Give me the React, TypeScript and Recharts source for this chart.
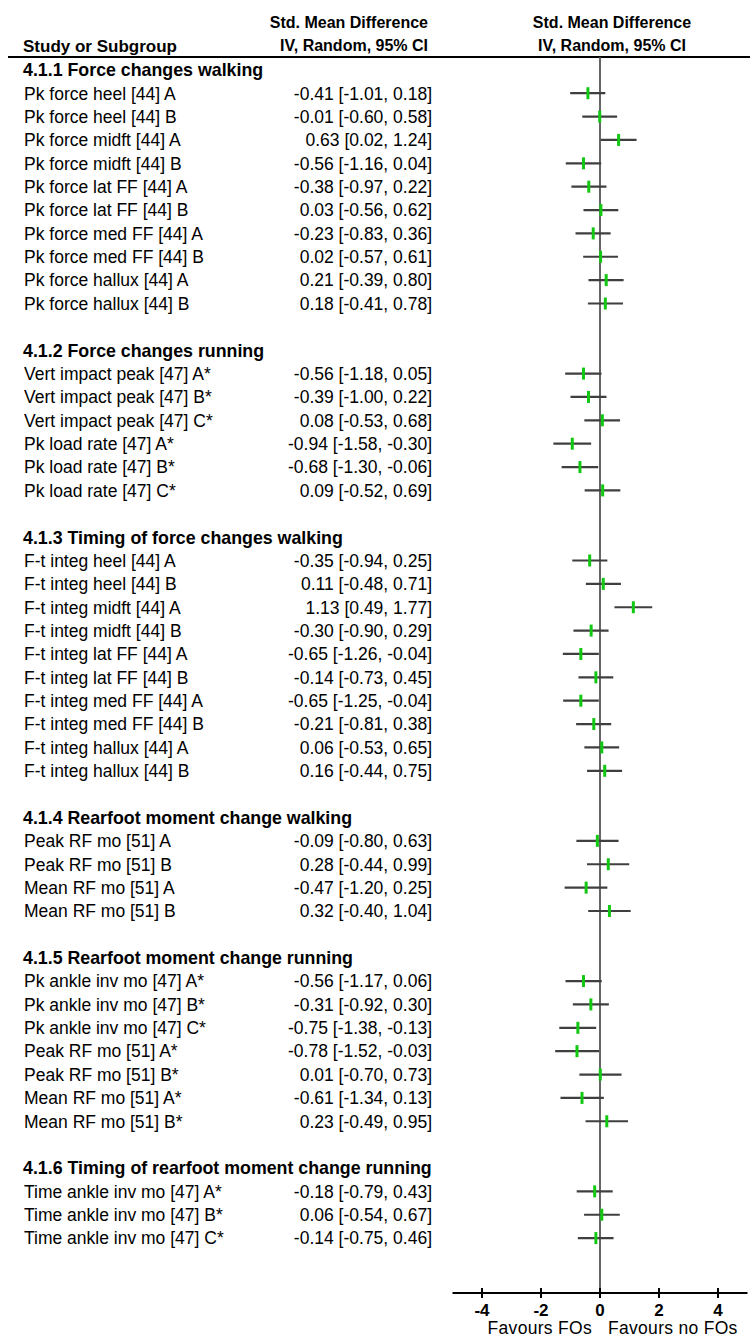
import React from "react";
import {
  ComposedChart,
  Scatter,
  ErrorBar,
  XAxis,
  YAxis,
  ReferenceLine,
  Customized,
} from "recharts";

const sectionTitles = [
  "4.1.1 Force changes walking",
  "4.1.2 Force changes running",
  "4.1.3 Timing of force changes walking",
  "4.1.4 Rearfoot moment change walking",
  "4.1.5 Rearfoot moment change running",
  "4.1.6 Timing of rearfoot moment change running",
];
const sectionSizes = [10, 6, 10, 4, 7, 3];

const studyLabels = [
  "Pk force heel [44] A",
  "Pk force heel [44] B",
  "Pk force midft [44] A",
  "Pk force midft [44] B",
  "Pk force lat FF [44] A",
  "Pk force lat FF [44] B",
  "Pk force med FF [44] A",
  "Pk force med FF [44] B",
  "Pk force hallux [44] A",
  "Pk force hallux [44] B",
  "Vert impact peak [47] A*",
  "Vert impact peak [47] B*",
  "Vert impact peak [47] C*",
  "Pk load rate [47] A*",
  "Pk load rate [47] B*",
  "Pk load rate [47] C*",
  "F-t integ heel [44] A",
  "F-t integ heel [44] B",
  "F-t integ midft [44] A",
  "F-t integ midft [44] B",
  "F-t integ lat FF [44] A",
  "F-t integ lat FF [44] B",
  "F-t integ med FF [44] A",
  "F-t integ med FF [44] B",
  "F-t integ hallux [44] A",
  "F-t integ hallux [44] B",
  "Peak RF mo [51] A",
  "Peak RF mo [51] B",
  "Mean RF mo [51] A",
  "Mean RF mo [51] B",
  "Pk ankle inv mo [47] A*",
  "Pk ankle inv mo [47] B*",
  "Pk ankle inv mo [47] C*",
  "Peak RF mo [51] A*",
  "Peak RF mo [51] B*",
  "Mean RF mo [51] A*",
  "Mean RF mo [51] B*",
  "Time ankle inv mo [47] A*",
  "Time ankle inv mo [47] B*",
  "Time ankle inv mo [47] C*",
];

const smd = [
  -0.41, -0.01, 0.63, -0.56, -0.38, 0.03, -0.23, 0.02, 0.21, 0.18,
  -0.56, -0.39, 0.08, -0.94, -0.68, 0.09,
  -0.35, 0.11, 1.13, -0.3, -0.65, -0.14, -0.65, -0.21, 0.06, 0.16,
  -0.09, 0.28, -0.47, 0.32,
  -0.56, -0.31, -0.75, -0.78, 0.01, -0.61, 0.23,
  -0.18, 0.06, -0.14,
];
const ciLow = [
  -1.01, -0.6, 0.02, -1.16, -0.97, -0.56, -0.83, -0.57, -0.39, -0.41,
  -1.18, -1.0, -0.53, -1.58, -1.3, -0.52,
  -0.94, -0.48, 0.49, -0.9, -1.26, -0.73, -1.25, -0.81, -0.53, -0.44,
  -0.8, -0.44, -1.2, -0.4,
  -1.17, -0.92, -1.38, -1.52, -0.7, -1.34, -0.49,
  -0.79, -0.54, -0.75,
];
const ciHigh = [
  0.18, 0.58, 1.24, 0.04, 0.22, 0.62, 0.36, 0.61, 0.8, 0.78,
  0.05, 0.22, 0.68, -0.3, -0.06, 0.69,
  0.25, 0.71, 1.77, 0.29, -0.04, 0.45, -0.04, 0.38, 0.65, 0.75,
  0.63, 0.99, 0.25, 1.04,
  0.06, 0.3, -0.13, -0.03, 0.73, 0.13, 0.95,
  0.43, 0.67, 0.46,
];

const xTicks = [-4, -2, 0, 2, 4];

type Row = {
  row: number;
  kind: "header" | "study";
  text: string;
  ci?: string;
};

const fmt = (v: number) => v.toFixed(2);

const rows: Row[] = [];
const points: { x: number; y: number; err: [number, number] }[] = [];
(() => {
  let r = 0;
  let k = 0;
  sectionTitles.forEach((title, s) => {
    if (s > 0) r++;
    rows.push({ row: r, kind: "header", text: title });
    r++;
    for (let i = 0; i < sectionSizes[s]; i++) {
      const e = smd[k];
      const lo = ciLow[k];
      const hi = ciHigh[k];
      rows.push({
        row: r,
        kind: "study",
        text: studyLabels[k],
        ci: `${fmt(e)} [${fmt(lo)}, ${fmt(hi)}]`,
      });
      points.push({ x: e, y: r, err: [e - lo, hi - e] });
      r++;
      k++;
    }
  });
})();

const rowTicks = rows.map((r) => r.row);
const FONT = "'Liberation Sans', Arial, sans-serif";

const RowTick = (props: any) => {
  const { y, payload } = props;
  const row = rows.find((r) => r.row === payload.value);
  if (!row) return null;
  if (row.kind === "header") {
    return (
      <text x={23} y={y} dy="0.36em" fontFamily={FONT} fontSize={17.8} fontWeight="bold" fill="#000">
        {row.text}
      </text>
    );
  }
  return (
    <g>
      <text x={24} y={y} dy="0.36em" fontFamily={FONT} fontSize={17.5} fill="#000">
        {row.text}
      </text>
      <text x={432} y={y} dy="0.36em" textAnchor="end" fontFamily={FONT} fontSize={17.5} fill="#000">
        {row.ci}
      </text>
    </g>
  );
};

const XTick = (props: any) => {
  const { x, y, payload } = props;
  return (
    <g>
      <line x1={x} x2={x} y1={y - 10} y2={y} stroke="#000" strokeWidth={2} />
      <text x={x} y={y + 12} dy="0.36em" textAnchor="middle" fontFamily={FONT} fontSize={17} fontWeight="bold" fill="#000">
        {payload.value}
      </text>
    </g>
  );
};

const Decorations = () => (
  <g fontFamily={FONT} fill="#000">
    <text x={428} y={22} dy="0.36em" textAnchor="end" fontSize={16} fontWeight="bold">
      Std. Mean Difference
    </text>
    <text x={428} y={45} dy="0.36em" textAnchor="end" fontSize={16} fontWeight="bold">
      IV, Random, 95% CI
    </text>
    <text x={612} y={22} dy="0.36em" textAnchor="middle" fontSize={16} fontWeight="bold">
      Std. Mean Difference
    </text>
    <text x={612} y={45} dy="0.36em" textAnchor="middle" fontSize={16} fontWeight="bold">
      IV, Random, 95% CI
    </text>
    <text x={23} y={46} dy="0.36em" fontSize={17} fontWeight="bold">
      Study or Subgroup
    </text>
    <line x1={8} x2={750} y1={57} y2={57} stroke="#000" strokeWidth={2} />
    <text x={592} y={1328} dy="0.36em" textAnchor="end" fontSize={17.5} letterSpacing={0.3}>
      Favours FOs
    </text>
    <text x={608} y={1328} dy="0.36em" textAnchor="start" fontSize={17.5} letterSpacing={0.3}>
      Favours no FOs
    </text>
  </g>
);

const Marker = (props: any) => {
  const { cx, cy } = props;
  return <rect x={cx - 1.5} y={cy - 6} width={3} height={12} fill="#12c812" />;
};

export default function App() {
  return (
    <div style={{ position: "absolute", left: 0, top: 0, background: "#fff" }}>
      <ComposedChart
        width={750}
        height={1337}
        data={points}
        margin={{ top: 57, right: 2.5, bottom: 0, left: 0 }}
      >
        <XAxis
          type="number"
          dataKey="x"
          domain={[-5, 5]}
          ticks={xTicks}
          allowDataOverflow
          height={44}
          axisLine={{ stroke: "#000", strokeWidth: 2 }}
          tickLine={false}
          tickSize={5}
          tickMargin={0}
          tick={<XTick />}
          interval={0}
        />
        <YAxis
          type="number"
          dataKey="y"
          domain={[-0.55, 52.35]}
          reversed
          allowDataOverflow
          width={452.5}
          ticks={rowTicks}
          interval={0}
          axisLine={false}
          tickLine={false}
          tick={<RowTick />}
        />
        <ReferenceLine x={0} stroke="#555" strokeWidth={1.8} ifOverflow="extendDomain" />
        <Scatter data={points} dataKey="y" shape={<Marker />} isAnimationActive={false}>
          <ErrorBar
            dataKey="err"
            direction="x"
            width={0}
            stroke="#3f3f3f"
            strokeWidth={2.2}
            isAnimationActive={false}
          />
        </Scatter>
        <Customized component={<Decorations />} />
      </ComposedChart>
    </div>
  );
}
